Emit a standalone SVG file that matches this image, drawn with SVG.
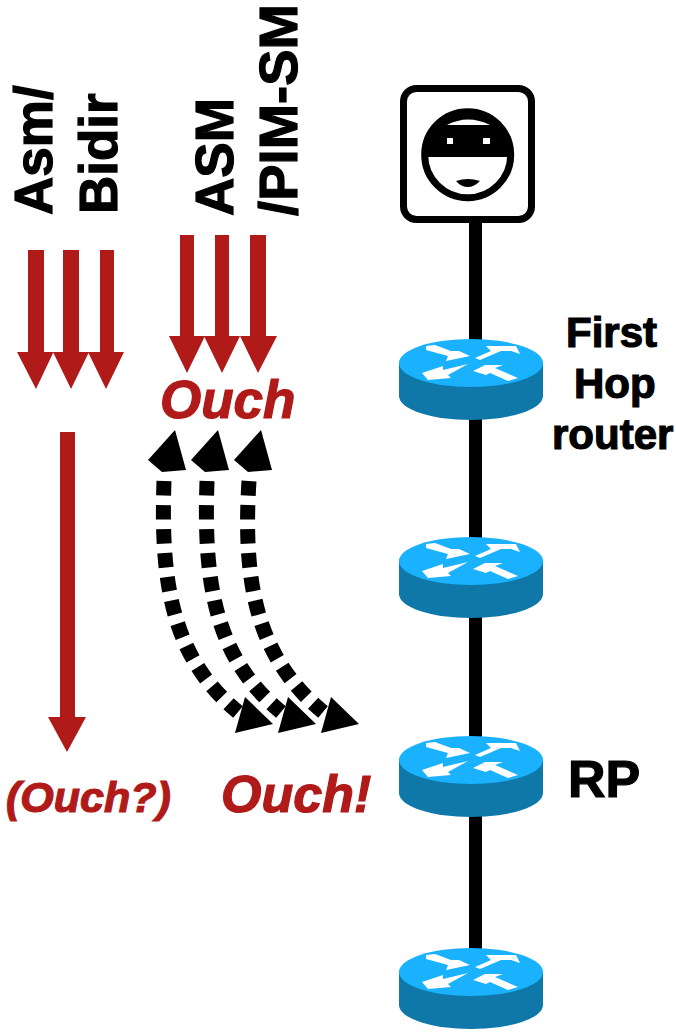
<svg xmlns="http://www.w3.org/2000/svg" width="676" height="1033" viewBox="0 0 676 1033">
<style>
.t{font-family:"Liberation Sans",Arial,sans-serif;font-weight:700;fill:#000;stroke:#000;stroke-width:1.2}
.o{font-family:"Liberation Sans",Arial,sans-serif;font-weight:700;font-style:italic;fill:#b01a18;stroke:#b01a18;stroke-width:1.2}
.link{stroke:#000;stroke-width:13;fill:none}
.red{fill:#b01a18}
.dot{stroke:#000;stroke-width:15;fill:none;stroke-dasharray:14.5 9.5}
</style>
<defs>
<g id="router">
<ellipse cx="72" cy="57" rx="72" ry="24" fill="#0f78a8"/>
<rect x="0" y="24" width="144" height="33" fill="#0f78a8"/>
<ellipse cx="72" cy="24" rx="72" ry="24" fill="#1ab2ff"/>
<g fill="#fff">
<polygon points="27,7 36,6 52,12 60,12 71,17 47,22 49,17 27,11"/>
<polygon points="76,19 92,12 87,7 117,7 121,15 112,12 102,12 81,21"/>
<polygon points="23,34 44,27 44,31 69,25 49,36 52,39 29,41"/>
<polygon points="74,32 86,26 104,26 96,29 119,39 109,42 91,34 87,36"/>
</g>
</g>
</defs>
<g id="connectors">
<line class="link" x1="475.500" y1="220" x2="475.500" y2="345"/>
<line class="link" x1="475.500" y1="415" x2="475.500" y2="545"/>
<line class="link" x1="475.500" y1="610" x2="475.500" y2="742"/>
<line class="link" x1="475.500" y1="810" x2="475.500" y2="955"/>
</g>
<g id="source">
<rect x="403.500" y="88.500" width="128" height="131" rx="13" fill="#fff" stroke="#000" stroke-width="7"/>
<circle cx="467.700" cy="154.700" r="43" fill="#fff" stroke="#000" stroke-width="7"/>
<path d="M424.800,157 A43,43 0 1 1 510.600,157 Z" fill="#000"/>
<path d="M447,125 Q468,114 490,125 Z" fill="#fff"/>
<rect x="447" y="138" width="6" height="6" fill="#fff"/>
<rect x="483" y="138" width="7" height="6" fill="#fff"/>
<path d="M456,181 Q468,177 480,181 Q474,187 468,187 Q461,187 456,181Z" fill="#000"/>
</g>
<g id="router1"><use href="#router" x="399" y="339"/></g>
<g id="router2"><use href="#router" x="399" y="537"/></g>
<g id="router3"><use href="#router" x="399" y="736"/></g>
<g id="router4"><use href="#router" x="399" y="948"/></g>
<g id="labels-right">
<text class="t" x="566" y="347" font-size="42">First</text>
<text class="t" x="574" y="398" font-size="42">Hop</text>
<text class="t" x="552" y="449" font-size="42">router</text>
<text class="t" x="568" y="797" font-size="52">RP</text>
</g>
<g id="labels-rotated">
<text class="t" font-size="53" transform="translate(52 215) rotate(-90)">Asm/</text>
<text class="t" font-size="53" transform="translate(117 214) rotate(-90)">Bidir</text>
<text class="t" font-size="53" transform="translate(233 216) rotate(-90)">ASM</text>
<text class="t" font-size="54.500" transform="translate(297 216) rotate(-90)">/PIM-SM</text>
</g>
<g id="labels-ouch">
<text class="o" x="160" y="418" font-size="53">Ouch</text>
<text class="o" x="221" y="812" font-size="52">Ouch!</text>
<text class="o" x="6" y="812" font-size="43">(Ouch?)</text>
</g>
<g id="red-arrows">
<path class="red" d="M28,250H44V352H53.500L36,389L17,352H28Z"/>
<path class="red" d="M63,250H79V352H89L71,389L53,352H63Z"/>
<path class="red" d="M100,250H114V352H124L106,389L88,352H100Z"/>
<path class="red" d="M180,235H194V336H205L187,373L169,336H180Z"/>
<path class="red" d="M215,235H229V336H240L222,373L204,336H215Z"/>
<path class="red" d="M250,235H266V336H277L258,373L240,336H250Z"/>
<path class="red" d="M60,432H75V717H86L67,752L48,717H60Z"/>
</g>
<g id="dotted-arrows">
<path class="dot" d="M164,481 C160,590 175,660 238,712"/>
<path class="dot" d="M207,481 C203,590 218,660 281,712"/>
<path class="dot" d="M249,481 C242,590 260,660 323,712"/>
<g fill="#000">
<polygon points="175,430 148,460 162,472 186,470"/>
<polygon points="218,430 191,460 205,472 229,470"/>
<polygon points="261,430 234,460 248,472 272,470"/>
<polygon points="273,724 245,697 235,733"/>
<polygon points="316,724 288,697 278,733"/>
<polygon points="359,724 331,697 321,733"/>
</g>
</g>
</svg>
